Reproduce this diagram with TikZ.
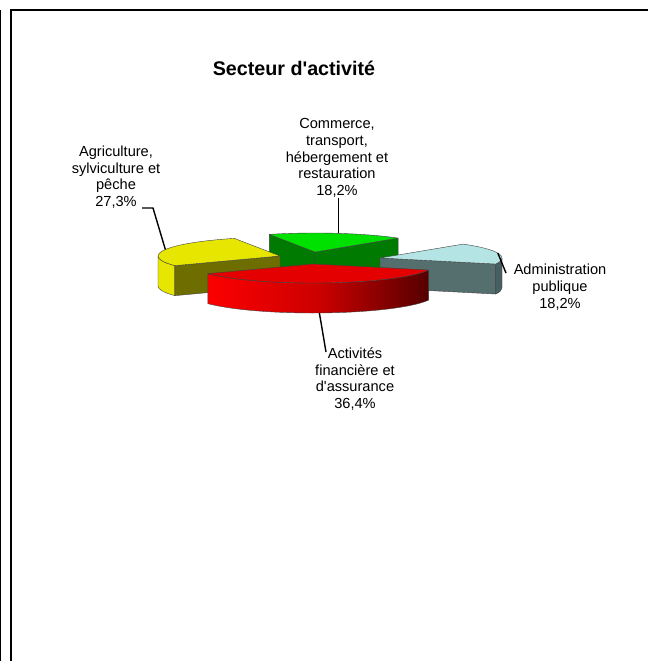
\documentclass[tikz,border=0pt]{standalone}
\usepackage{fontspec}
\setmainfont{Liberation Sans}[Ligatures=TeXOff]
\usetikzlibrary{calc}

\definecolor{yeltop}{RGB}{230,230,0}
\definecolor{yelcut}{RGB}{110,110,0}
\definecolor{grntop}{RGB}{0,225,0}
\definecolor{grncut}{RGB}{0,122,0}
\definecolor{admtop}{RGB}{180,228,228}
\definecolor{admcut}{RGB}{85,110,110}
\definecolor{admside}{RGB}{70,95,95}
\definecolor{redtop}{RGB}{228,0,0}
\definecolor{redlight}{RGB}{252,0,0}
\definecolor{redmid}{RGB}{205,0,0}
\definecolor{reddark}{RGB}{85,0,0}

\newcommand{\pierx}{122}
\newcommand{\piery}{19}
\newcommand{\pieell}{122 and 19}
\newcommand{\piedepth}{30}

\tikzset{
  face/.style={draw=black!75, line width=0.4pt, line join=round},
  pie arc/.style={x radius=\pierx, y radius=\piery},
  lbl/.style={align=center, inner sep=0pt, font=\fontsize{14.6}{16.7}\selectfont},
  leader/.style={draw=black, line width=1.4pt},
}

\begin{document}
\begin{tikzpicture}[x=1pt, y=-1pt]
    \useasboundingbox (0,0) rectangle (648,661);

    % frame
    \draw[line width=1pt] (0.5,10) -- (0.5,661);
    \draw[line width=2pt] (11,661) -- (11,10) -- (648,10);

    \node[font=\bfseries\fontsize{19.7}{23}\selectfont] (title) at (294,68) {Secteur d'activité};

    % Commerce (back)
    \begin{scope}[shift={(315,252)}]
      \draw[face, fill=grncut] (0,0) -- (248:\pieell) -- ++(0,\piedepth) -- (0,\piedepth) -- cycle;
      \draw[face, fill=grncut] (0,0) -- (313:\pieell) -- ++(0,\piedepth) -- (0,\piedepth) -- cycle;
      \draw[face, fill=grntop] (0,0) -- (248:\pieell) arc[pie arc, start angle=248, end angle=313] -- cycle;
      \coordinate (commrim) at (281:\pieell);
    \end{scope}

    % Agriculture
    \begin{scope}[shift={(280,256)}]
      \draw[face, fill=yeltop] (149.5:\pieell) arc[pie arc, start angle=149.5, end angle=180]
        -- ++(0,\piedepth) arc[pie arc, start angle=180, end angle=149.5] -- cycle;
      \draw[face, fill=yelcut] (0,0) -- (149.5:\pieell) -- ++(0,\piedepth) -- (0,\piedepth) -- cycle;
      \draw[face, fill=yeltop] (0,0) -- (149.5:\pieell) arc[pie arc, start angle=149.5, end angle=248] -- cycle;
      \coordinate (agririm) at (200:\pieell);
    \end{scope}

    % Administration
    \begin{scope}[shift={(380,258)}]
      \draw[face, fill=admside] (360:\pieell) arc[pie arc, start angle=360, end angle=378.5]
        -- ++(0,\piedepth) arc[pie arc, start angle=378.5, end angle=360] -- cycle;
      \draw[face, fill=admcut] (0,0) -- (378.5:\pieell) -- ++(0,\piedepth) -- (0,\piedepth) -- cycle;
      \draw[face, fill=admtop] (0,0) -- (313:\pieell) arc[pie arc, start angle=313, end angle=378.5] -- cycle;
      \coordinate (admrim) at (345:\pieell);
    \end{scope}

    % Activites financieres (front)
    \begin{scope}[shift={(313,264)}]
      \draw[face, left color=redlight, right color=reddark, middle color=redmid]
        (18.5:\pieell) arc[pie arc, start angle=18.5, end angle=149.5]
        -- ++(0,\piedepth) arc[pie arc, start angle=149.5, end angle=18.5] -- cycle;
      \draw[face, fill=redtop] (0,0) -- (18.5:\pieell) arc[pie arc, start angle=18.5, end angle=149.5] -- cycle;
      \path (87:\pieell) ++(0,\piedepth) coordinate (activrim);
    \end{scope}

    % labels
    \node[lbl] (agri) at (116,177) {Agriculture,\\sylviculture et\\pêche\\27,3\%};
    \node[lbl] (comm) at (337,158) {Commerce,\\transport,\\hébergement et\\restauration\\18,2\%};
    \node[lbl] (adm) at (560,287) {Administration\\publique\\18,2\%};
    \node[lbl] (activ) at (355,379) {Activités\\financière et\\d'assurance\\36,4\%};

    \coordinate (agriend) at (142,208);
    \coordinate (agrikink) at (153,208);
    \coordinate (admend) at (506,273);
    \coordinate (activend) at (326,352);

    \draw[leader] (agriend) -- (agrikink) -- (agririm);
    \draw[leader] (commrim |- comm.south) -- (commrim);
    \draw[leader] (admrim) -- (admend);
    \draw[leader] (activrim) -- (activend);
\end{tikzpicture}
\end{document}
